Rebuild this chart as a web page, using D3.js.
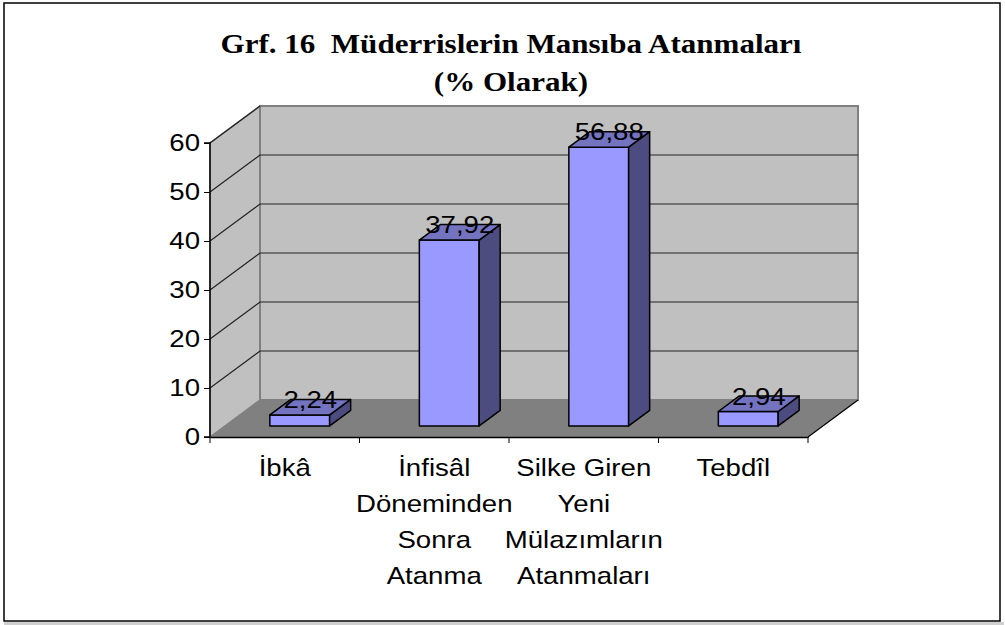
<!DOCTYPE html>
<html lang="tr">
<head>
<meta charset="utf-8">
<title>Grf. 16</title>
<script src="https://d3js.org/d3.v7.min.js"></script>
<style>
  body { margin: 0; background: #fff; }
  svg { display: block; }
</style>
</head>
<body>
<script>
// data
const categories = [
  ["İbkâ"],
  ["İnfisâl", "Döneminden", "Sonra", "Atanma"],
  ["Silke Giren", "Yeni", "Mülazımların", "Atanmaları"],
  ["Tebdîl"]
];
const values = [2.24, 37.92, 56.88, 2.94];
const valueLabels = ["2,24", "37,92", "56,88", "2,94"];
const yTicks = [0, 10, 20, 30, 40, 50, 60];
const titleLines = ["Grf. 16  Müderrislerin Mansıba Atanmaları", "(% Olarak)"];

const w = 1005, h = 625;
// depth of the 3d box
const depthX = 50, depthY = 37;
// excel draws the text a bit wider
const stretch = 1.15;
const sans = "Liberation Sans, Arial, sans-serif";

const svg = d3.select("body").append("svg")
  .attr("width", w).attr("height", h);

// outer frame
svg.append("rect").attr("x", 4).attr("y", 622).attr("width", 1000).attr("height", 3).attr("fill", "#d0d0d0");
svg.append("rect")
  .attr("x", 4).attr("y", 3).attr("width", 996).attr("height", 618)
  .attr("fill", "#fff").attr("stroke", "#000").attr("stroke-width", 1.5);

const idx = d3.range(categories.length);
const x = d3.scaleBand().domain(idx).range([210, 808]).padding(0);
const y = d3.scaleLinear().domain([0, 60]).range([437, 143]);

// point at front x, value v, depth d (0 front .. 1 back)
const P = (px, v, d) => [px + d * depthX, y(v) - d * depthY];
const poly = pts => pts.map(p => p.join(",")).join(" ");

const x0 = x.range()[0], x1 = x.range()[1];

// side wall
svg.append("polygon")
  .attr("points", poly([P(x0, 0, 0), P(x0, 0, 1), P(x0, 60, 1), P(x0, 60, 0)]))
  .attr("fill", "#c0c0c0").attr("stroke", "#808080").attr("stroke-width", 1.5);
// back wall
svg.append("polygon")
  .attr("points", poly([P(x0, 0, 1), P(x1, 0, 1), P(x1, 60, 1), P(x0, 60, 1)]))
  .attr("fill", "#c0c0c0").attr("stroke", "#808080").attr("stroke-width", 2);
// floor
svg.append("polygon")
  .attr("points", poly([P(x0, 0, 0), P(x1, 0, 0), P(x1, 0, 1), P(x0, 0, 1)]))
  .attr("fill", "#808080");
svg.append("line")
  .attr("x1", P(x1, 0, 0)[0]).attr("y1", P(x1, 0, 0)[1])
  .attr("x2", P(x1, 0, 1)[0]).attr("y2", P(x1, 0, 1)[1])
  .attr("stroke", "#000").attr("stroke-width", 1.2);

// gridlines
const grid = yTicks.filter(t => t > 0 && t < 60);
svg.append("g").selectAll("polyline").data(grid).join("polyline")
  .attr("points", t => poly([P(x0, t, 0), P(x0, t, 1), P(x1, t, 1)]))
  .attr("fill", "none").attr("stroke", "#222").attr("stroke-width", 1.2);
svg.append("line")
  .attr("x1", P(x0, 60, 0)[0]).attr("y1", P(x0, 60, 0)[1])
  .attr("x2", P(x0, 60, 1)[0]).attr("y2", P(x0, 60, 1)[1])
  .attr("stroke", "#222").attr("stroke-width", 1.2);

// axes
const yAxis = svg.append("g")
  .attr("transform", `translate(${x0},0)`)
  .call(d3.axisLeft(y).tickValues(yTicks).tickSize(6).tickPadding(4));
const xAxis = svg.append("g")
  .attr("transform", `translate(0,${y(0)})`)
  .call(d3.axisBottom(x).tickSize(0).tickFormat(""));
xAxis.selectAll(".tick").remove();
xAxis.selectAll("line.cat").data(idx.concat([categories.length])).join("line")
  .attr("class", "cat")
  .attr("x1", i => i < categories.length ? x(i) : x1)
  .attr("x2", i => i < categories.length ? x(i) : x1)
  .attr("y1", 0).attr("y2", 6).attr("stroke", "#000");
[yAxis, xAxis].forEach(g => {
  g.select(".domain").attr("stroke", "#000").attr("stroke-width", 1.5);
  g.selectAll("line").attr("stroke", "#000");
});
yAxis.select(".domain").attr("d", `M-6,${y(60)}H0V${y(0)}H-6`);
// widen the tick labels like the original
yAxis.selectAll(".tick text")
  .attr("font-family", sans).attr("font-size", 24).attr("fill", "#000")
  .attr("x", null)
  .attr("transform", `translate(-10,0) scale(${stretch},1)`);

// bars
const bw = x.bandwidth() * 0.4;
const d0 = 0.3, d1 = 0.72;
const bars = svg.append("g").selectAll("g").data(values).join("g");
const bl = (d, i) => x(i) + (x.bandwidth() - bw) / 2;
bars.append("polygon") // front
  .attr("points", (d, i) => poly([P(bl(d, i), 0, d0), P(bl(d, i) + bw, 0, d0), P(bl(d, i) + bw, d, d0), P(bl(d, i), d, d0)]))
  .attr("fill", "#9999ff");
bars.append("polygon") // side
  .attr("points", (d, i) => poly([P(bl(d, i) + bw, 0, d0), P(bl(d, i) + bw, 0, d1), P(bl(d, i) + bw, d, d1), P(bl(d, i) + bw, d, d0)]))
  .attr("fill", "#4c4c80");
bars.append("polygon") // top
  .attr("points", (d, i) => poly([P(bl(d, i), d, d0), P(bl(d, i) + bw, d, d0), P(bl(d, i) + bw, d, d1), P(bl(d, i), d, d1)]))
  .attr("fill", "#7373c0");
bars.selectAll("polygon").attr("stroke", "#000").attr("stroke-width", 1.5).attr("stroke-linejoin", "round");

// value labels
const dm = (d0 + d1) / 2;
svg.append("g").selectAll("text").data(values).join("text")
  .attr("transform", (d, i) => {
    const p = P(x(i) + x.bandwidth() / 2, d, dm);
    return `translate(${p[0]},${p[1] + 1}) scale(${stretch},1)`;
  })
  .attr("text-anchor", "middle")
  .attr("font-family", sans)
  .attr("font-size", 24)
  .text((d, i) => valueLabels[i]);

// category labels
const catG = svg.append("g").selectAll("text").data(categories).join("text")
  .attr("transform", (d, i) => `translate(${x(i) + x.bandwidth() / 2},476) scale(${stretch},1)`)
  .attr("text-anchor", "middle")
  .attr("font-family", sans)
  .attr("font-size", 24);
catG.selectAll("tspan").data(d => d).join("tspan")
  .attr("x", 0)
  .attr("dy", (d, j) => j === 0 ? 0 : 36)
  .text(d => d);

// title
svg.append("g").selectAll("text").data(titleLines).join("text")
  .attr("transform", (d, i) => `translate(511,${53 + i * 38}) scale(${stretch},1)`)
  .attr("text-anchor", "middle")
  .attr("font-family", "Liberation Serif, Times New Roman, serif")
  .attr("font-weight", "bold")
  .attr("font-size", 27)
  .style("white-space", "pre")
  .text(d => d);
</script>
</body>
</html>
